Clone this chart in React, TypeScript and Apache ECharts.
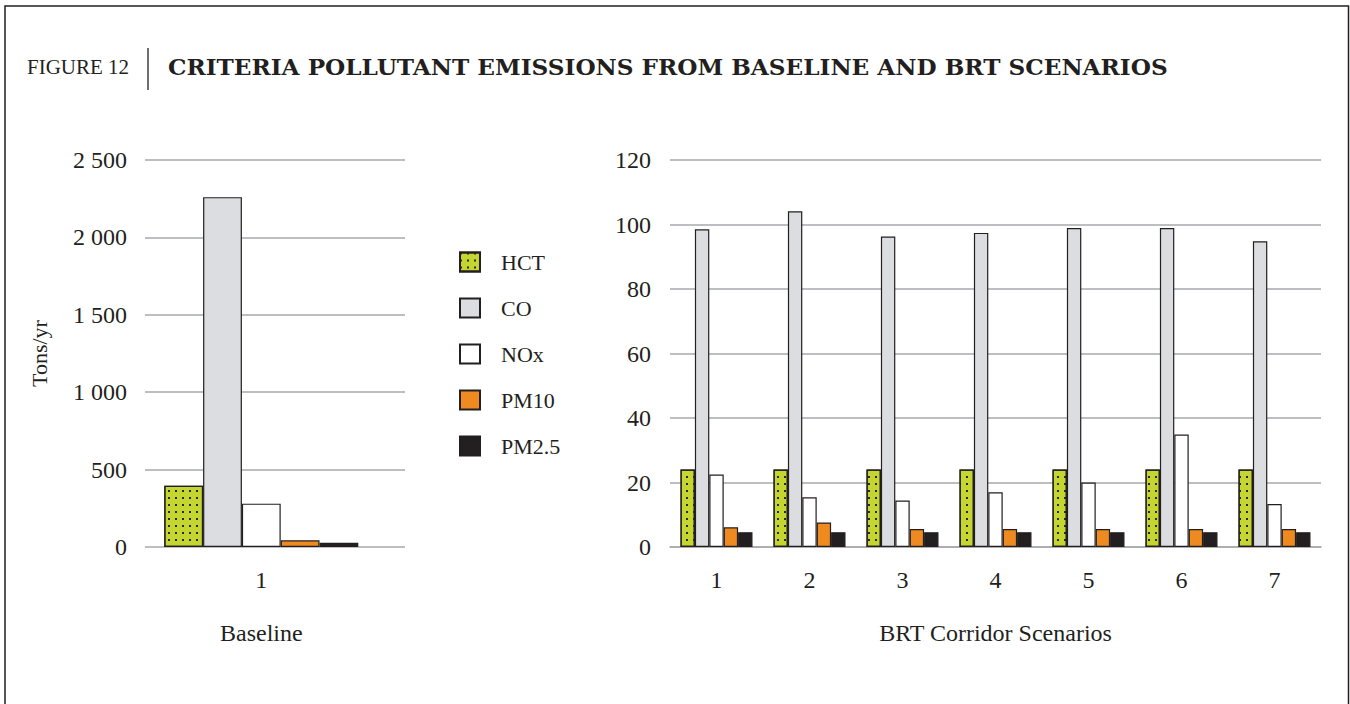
import React, { useEffect, useRef } from "react";
import * as echarts from "echarts";

const pollutants = ["HCT", "CO", "NOx", "PM10", "PM2.5"];
const colors = ["#c5d630", "#dcdde0", "#ffffff", "#ee8a1f", "#231f20"];

const baselineCategories = ["1"];
const baselineHCT = [395];
const baselineCO = [2260];
const baselineNOx = [280];
const baselinePM10 = [43];
const baselinePM25 = [27];

const scenarioCategories = ["1", "2", "3", "4", "5", "6", "7"];
const scenarioHCT = [24, 24, 24, 24, 24, 24, 24];
const scenarioCO = [98.5, 104.1, 96.3, 97.4, 98.9, 98.9, 94.8];
const scenarioNOx = [22.5, 15.4, 14.4, 17.0, 20.0, 34.9, 13.3];
const scenarioPM10 = [6.1, 7.6, 5.6, 5.6, 5.6, 5.6, 5.6];
const scenarioPM25 = [4.6, 4.6, 4.6, 4.6, 4.6, 4.6, 4.6];

const leftTicks = { min: 0, max: 2500, interval: 500 };
const rightTicks = { min: 0, max: 120, interval: 20 };

const FONT = "Liberation Serif";
const INK = "#231f20";
const GRID_LINE = "#a7a9ac";

const fmtThousands = (v: number) =>
  v >= 1000 ? `${Math.floor(v / 1000)} ${String(v % 1000).padStart(3, "0")}` : String(v);

export default function App() {
  const ref = useRef<HTMLDivElement>(null);
  useEffect(() => {
    if (!ref.current) return;
    const chart = echarts.init(ref.current, undefined, { renderer: "svg" });
    const decal = {
      symbol: "rect",
      symbolSize: 1,
      dashArrayX: [1.6, 5],
      dashArrayY: [1.6, 5],
      color: "#2a2a2a",
      rotation: 0,
    };
    const baseData = [baselineHCT, baselineCO, baselineNOx, baselinePM10, baselinePM25];
    const scenData = [scenarioHCT, scenarioCO, scenarioNOx, scenarioPM10, scenarioPM25];
    const itemStyle = (i: number) => ({
      color: colors[i],
      borderColor: INK,
      borderWidth: 1.2,
      ...(i === 0 ? { decal } : {}),
    });
    const series: any[] = [];
    pollutants.forEach((p, i) => {
      series.push({
        type: "bar",
        name: p,
        xAxisIndex: 1,
        yAxisIndex: 1,
        data: baseData[i],
        barWidth: 38.8,
        barGap: "0%",
        itemStyle: itemStyle(i),
      });
    });
    pollutants.forEach((p, i) => {
      series.push({
        type: "bar",
        name: p,
        xAxisIndex: 2,
        yAxisIndex: 2,
        data: scenData[i],
        barWidth: 14.4,
        barGap: "0%",
        itemStyle: itemStyle(i),
      });
    });
    const labelStyle = { fontFamily: FONT, fontSize: 24, color: INK };
    chart.setOption({
      animation: false,
      backgroundColor: "#ffffff",
      aria: { enabled: false },
      grid: [
        { left: 145, width: 260, top: 160, height: 387 },
        { left: 145, width: 232.6, top: 160, height: 387 },
        { left: 670, width: 651, top: 160, height: 387 },
      ],
      legend: {
        data: pollutants,
        orient: "vertical",
        left: 459,
        top: 251,
        icon: "rect",
        itemWidth: 20,
        itemHeight: 19,
        itemGap: 24,
        padding: 0,
        selectedMode: false,
        textStyle: { fontFamily: FONT, color: INK, fontSize: 22, lineHeight: 19, padding: [0, 0, 0, 16] },
      },
      xAxis: [
        {
          type: "category",
          gridIndex: 0,
          data: baselineCategories,
          axisLine: { show: false },
          axisTick: { show: false },
          axisLabel: { show: false },
        },
        {
          type: "category",
          gridIndex: 1,
          data: baselineCategories,
          axisLine: { show: false },
          axisTick: { show: false },
          axisLabel: { ...labelStyle, margin: 21 },
          name: "Baseline",
          nameLocation: "middle",
          nameGap: 74,
          nameTextStyle: labelStyle,
        },
        {
          type: "category",
          gridIndex: 2,
          data: scenarioCategories,
          axisLine: { show: true, lineStyle: { color: GRID_LINE, width: 1.5 } },
          axisTick: { show: false },
          axisLabel: { ...labelStyle, margin: 21 },
          name: "BRT Corridor Scenarios",
          nameLocation: "middle",
          nameGap: 74,
          nameTextStyle: labelStyle,
        },
      ],
      yAxis: [
        {
          type: "value",
          gridIndex: 0,
          ...leftTicks,
          axisLine: { show: false },
          axisTick: { show: false },
          axisLabel: { ...labelStyle, margin: 18, formatter: fmtThousands },
          splitLine: { lineStyle: { color: GRID_LINE, width: 1.5 } },
          name: "Tons/yr",
          nameLocation: "middle",
          nameRotate: 90,
          nameGap: 95,
          nameTextStyle: { ...labelStyle, fontSize: 22 },
        },
        {
          type: "value",
          gridIndex: 1,
          ...leftTicks,
          axisLine: { show: false },
          axisTick: { show: false },
          axisLabel: { show: false },
          splitLine: { show: false },
        },
        {
          type: "value",
          gridIndex: 2,
          ...rightTicks,
          axisLine: { show: false },
          axisTick: { show: false },
          axisLabel: { ...labelStyle, margin: 19 },
          splitLine: { lineStyle: { color: GRID_LINE, width: 1.5 } },
        },
      ],
      series,
      graphic: [
        {
          type: "rect",
          shape: { x: 5, y: 6, width: 1343.5, height: 720 },
          style: { fill: "none", stroke: INK, lineWidth: 1.5 },
          silent: true,
        },
        {
          type: "text",
          x: 27,
          y: 67,
          style: {
            text: "FIGURE 12",
            fontFamily: FONT,
            fontSize: 21,
            fill: INK,
            verticalAlign: "middle",
            align: "left",
          },
        },
        {
          type: "line",
          shape: { x1: 148, y1: 48, x2: 148, y2: 90 },
          style: { stroke: INK, lineWidth: 1.3 },
        },
        {
          type: "text",
          x: 168,
          y: 66,
          style: {
            text: "CRITERIA POLLUTANT EMISSIONS FROM BASELINE AND BRT SCENARIOS",
            fontFamily: "DejaVu Serif",
            fontWeight: "bold",
            fontSize: 23.2,
            fill: INK,
            verticalAlign: "middle",
            align: "left",
          },
        },
      ],
    });
    return () => chart.dispose();
  }, []);
  return (
    <div
      ref={ref}
      style={{ position: "absolute", left: 0, top: 0, width: 1350, height: 704 }}
    />
  );
}
